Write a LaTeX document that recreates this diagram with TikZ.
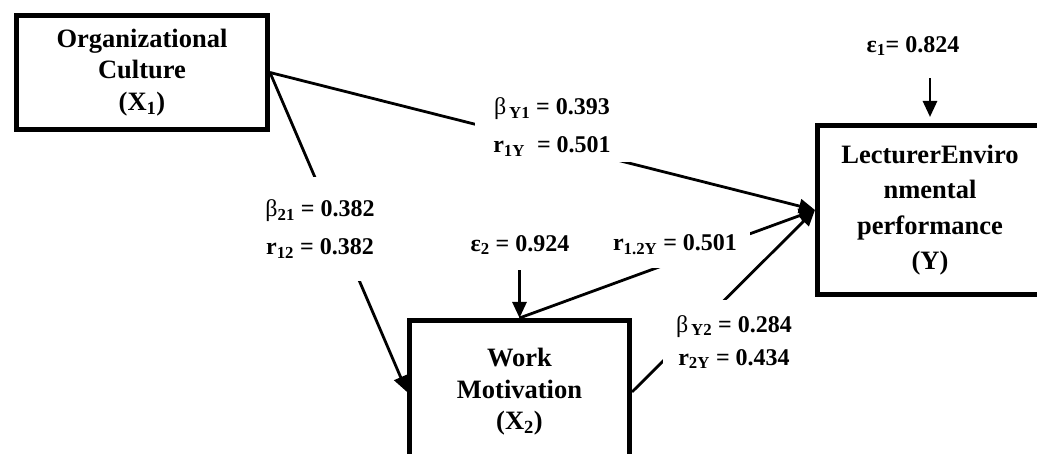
\documentclass[tikz,border=0pt]{standalone}
\usepackage{fontspec}
\setmainfont{Liberation Serif}
\usepackage{tikz}
\usetikzlibrary{arrows.meta,positioning,calc}

\begin{document}
\begin{tikzpicture}[x=1pt, y=-1pt,
  box/.style={draw, line width=5pt, align=center, inner sep=0pt, font=\fontsize{26.5}{31.5}\selectfont\bfseries},
  lbl/.style={fill=white, align=center, inner sep=3pt, font=\fontsize{24}{38}\selectfont\bfseries},
  arr/.style={-{Triangle[length=16pt,width=14pt]}, line width=2.8pt}
]
\clip (0,0) rectangle (1037,454);
% variables
\node[box, minimum width=251pt, minimum height=114pt] (cult) at (142,72.5) {Organizational\\Culture\\(X\textsubscript{1})};
\node[box, minimum width=225pt, minimum height=169pt, font=\fontsize{26.5}{35.5}\selectfont\bfseries] (perf) at (930,210) {LecturerEnviro\\nmental\\performance\\(Y)};
\node[box, minimum width=220pt, minimum height=143pt] (motiv) at (519.5,392) {\raisebox{12pt}{\begin{tabular}{@{}c@{}}Work\\Motivation\\(X\textsubscript{2})\end{tabular}}};
% paths
\draw[arr] (cult.east) -- (perf.west);
\draw[arr] (cult.east) -- (motiv.west);
\draw[arr] (motiv.north) -- (perf.west);
\draw[arr] (motiv.east) -- (perf.west);
% coefficients
\node[lbl, minimum width=155pt, minimum height=70pt] (bY1) at (552,127) {\textmd{β}\textsubscript{\,Y1} = 0.393\\r\textsubscript{1Y}~ = 0.501};
\node[lbl, minimum height=104pt] (b21) at (320,229) {\textmd{β}\textsubscript{21} = 0.382\\r\textsubscript{12} = 0.382};
\node[lbl, minimum width=150pt, minimum height=46pt] (r12Y) at (675,245) {r\textsubscript{1.2Y} = 0.501};
\node[lbl, minimum width=142pt, minimum height=84pt, font=\fontsize{24}{33}\selectfont\bfseries] (bY2) at (734,342) {\textmd{β}\textsubscript{\,Y2} = 0.284\\r\textsubscript{2Y} = 0.434};
% residuals
\node[lbl] (e1) at (913,46) {ε\textsubscript{1}= 0.824};
\node[lbl] (e2) at (520,245) {ε\textsubscript{2} = 0.924};
\draw[arr, shorten <=19pt, shorten >=6pt] (e1.south -| perf.north) -- (perf.north);
\draw[arr, shorten <=12pt] (e2.south -| motiv.north) -- (motiv.north);
\end{tikzpicture}
\end{document}
